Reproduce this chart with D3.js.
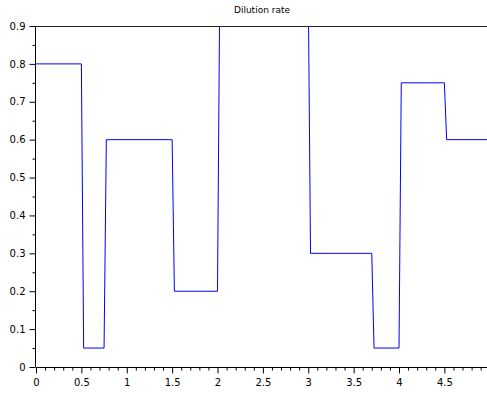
<!DOCTYPE html>
<html><head><meta charset="utf-8">
<script src="https://cdn.jsdelivr.net/npm/d3@7/dist/d3.min.js"></script>
<style>body{margin:0;background:#fff}svg{display:block}</style>
</head><body>
<svg id="c" width="487" height="394"></svg>
<script>
const title = "Dilution rate";
const timeValues = [0, 0.5, 0.525, 0.75, 0.775, 1.5, 1.525, 2.0, 2.025, 3.0, 3.025, 3.7, 3.725, 4.0, 4.025, 4.5, 4.525, 5.0];
const rateValues = [0.8, 0.8, 0.05, 0.05, 0.6, 0.6, 0.2, 0.2, 1.0, 1.0, 0.3, 0.3, 0.05, 0.05, 0.75, 0.75, 0.6, 0.6];
const xTickValues = [0, 0.5, 1, 1.5, 2, 2.5, 3, 3.5, 4, 4.5];
const xTickLabels = ["0", "0.5", "1", "1.5", "2", "2.5", "3", "3.5", "4", "4.5"];
const yTickValues = [0, 0.1, 0.2, 0.3, 0.4, 0.5, 0.6, 0.7, 0.8, 0.9];
const yTickLabels = ["0", "0.1", "0.2", "0.3", "0.4", "0.5", "0.6", "0.7", "0.8", "0.9"];
const xMinorTicks = [0.1,0.2,0.3,0.4,0.6,0.7,0.8,0.9,1.1,1.2,1.3,1.4,1.6,1.7,1.8,1.9,2.1,2.2,2.3,2.4,2.6,2.7,2.8,2.9,3.1,3.2,3.3,3.4,3.6,3.7,3.8,3.9,4.1,4.2,4.3,4.4,4.6,4.7,4.8,4.9];
const yMinorTicks = [0.05,0.15,0.25,0.35,0.45,0.55,0.65,0.75,0.85];

const svg = d3.select("#c");
const font = "DejaVu Sans, sans-serif";
const x = d3.scaleLinear().domain([0, 5]).range([36, 489.75]);
const y = d3.scaleLinear().domain([0, 0.9]).range([367, 26]);

svg.append("defs").append("clipPath").attr("id","clip")
  .append("rect").attr("x", 36).attr("y", 26).attr("width", 460).attr("height", 341);

const pts = timeValues.map((t,i)=>[t, rateValues[i]]);
svg.append("path").datum(pts)
  .attr("clip-path","url(#clip)")
  .attr("fill","none").attr("stroke","#0000ff").attr("stroke-width",1)
  .attr("d", d3.line().x(d=>x(d[0])).y(d=>y(d[1])));

// top border
svg.append("line").attr("x1",36).attr("x2",487).attr("y1",26.5).attr("y2",26.5)
  .attr("stroke","#222").attr("stroke-width",1);

// x axis
const xa = svg.append("g").attr("transform","translate(0,367.5)");
xa.append("g").call(d3.axisBottom(x).tickValues(xMinorTicks).tickSize(3).tickFormat(""))
  .call(g=>g.select(".domain").remove());
xa.append("g").call(d3.axisBottom(x).tickValues(xTickValues).tickSize(6).tickPadding(5)
   .tickFormat((d,i)=>xTickLabels[i]))
  .call(g=>g.select(".domain").attr("d","M36,0H487"))
  .call(g=>g.selectAll("text").attr("font-family",font).attr("font-size",10).attr("fill","#000"));

// y axis
const ya = svg.append("g").attr("transform","translate(35.5,0)");
ya.append("g").call(d3.axisLeft(y).tickValues(yMinorTicks).tickSize(3).tickFormat(""))
  .call(g=>g.select(".domain").remove());
ya.append("g").call(d3.axisLeft(y).tickValues(yTickValues).tickSize(6).tickPadding(4)
   .tickFormat((d,i)=>yTickLabels[i]))
  .call(g=>g.select(".domain").attr("d","M0,367H0V26"))
  .call(g=>g.selectAll("text").attr("font-family",font).attr("font-size",10).attr("fill","#000"));

svg.append("text").attr("x", 262).attr("y", 13).attr("text-anchor","middle")
  .attr("font-family",font).attr("font-size",9).attr("fill","#000").text(title);
</script>
</body></html>
